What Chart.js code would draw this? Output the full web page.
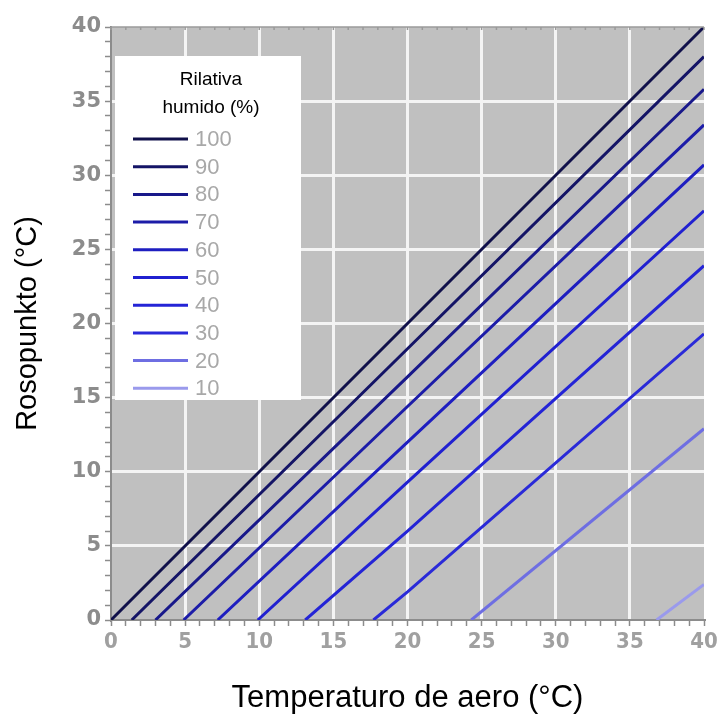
<!DOCTYPE html>
<html>
<head>
<meta charset="utf-8">
<script src="https://cdn.jsdelivr.net/npm/chart.js@4.4.0/dist/chart.umd.min.js"></script>
<style>
  html, body { margin: 0; padding: 0; background: #fff; }
  #wrap { width: 721px; height: 721px; }
</style>
</head>
<body>
<div id="wrap"><canvas id="grafico" width="721" height="721"></canvas></div>
<script>
// Rilativa humido (%) - una linio por nivelo
const humidoj = [100, 90, 80, 70, 60, 50, 40, 30, 20, 10];
// temperaturo kie la rosopunkto estas 0 °C
const tempKomenco = [0, 1.4, 3.0, 4.9, 7.2, 9.9, 13.1, 17.7, 24.3, 36.8];
// rosopunkto je 20 °C kaj je 40 °C
const roso20 = [20, 18.3, 16.4, 14.4, 12.0, 9.3, 6.0, 1.9, null, null];
const roso40 = [40, 38.0, 35.8, 33.4, 30.7, 27.6, 23.9, 19.3, 12.9, 2.4];
const koloroj = ['#10104a', '#141466', '#18188a', '#1c1ca8', '#1e1ec0', '#2020d0', '#2424d6', '#2a2ad8', '#6e6ee2', '#9a9aec'];
const xTikoj = [0, 5, 10, 15, 20, 25, 30, 35, 40];
const yTikoj = [0, 5, 10, 15, 20, 25, 30, 35, 40];

const datasets = humidoj.map((h, i) => {
    const punktoj = [{ x: tempKomenco[i], y: 0 }];
    if (roso20[i] !== null) punktoj.push({ x: 20, y: roso20[i] });
    punktoj.push({ x: 40, y: roso40[i] });
    return {
        label: String(h),
        data: punktoj,
        borderColor: koloroj[i],
        borderWidth: 3,
        pointRadius: 0,
        tension: 0,
        fill: false
    };
});

const GRIZA = '#8c8c8c';

// griza fono de la grafikejo
const fonoPlugin = {
    id: 'fono',
    beforeDraw(chart) {
        const { ctx, chartArea: a } = chart;
        ctx.save();
        ctx.fillStyle = '#c0c0c0';
        ctx.fillRect(a.left, a.top, a.right - a.left, a.bottom - a.top);
        ctx.restore();
    }
};

// supra bordero kun etaj strekoj
const supraPlugin = {
    id: 'supra',
    afterDatasetsDraw(chart) {
        const { ctx, chartArea: a, scales } = chart;
        ctx.save();
        ctx.strokeStyle = '#9a9a9a';
        ctx.lineWidth = 1.5;
        ctx.beginPath();
        ctx.moveTo(a.left, a.top);
        ctx.lineTo(a.right, a.top);
        for (let v = 0; v <= 40; v++) {
            const px = scales.x.getPixelForValue(v);
            ctx.moveTo(px, a.top);
            ctx.lineTo(px, a.top + 3);
        }
        ctx.stroke();
        ctx.restore();
    }
};

// legendo ene de la grafikejo
const legendoPlugin = {
    id: 'legendo',
    afterDatasetsDraw(chart) {
        const ctx = chart.ctx;
        ctx.save();
        ctx.fillStyle = '#ffffff';
        ctx.fillRect(115, 56, 186, 344);
        ctx.fillStyle = '#000';
        ctx.textAlign = 'center';
        ctx.textBaseline = 'middle';
        ctx.font = '19px "Liberation Sans", Arial, sans-serif';
        ctx.fillText('Rilativa', 211, 80);
        ctx.fillText('humido (%)', 211, 108);
        ctx.textAlign = 'left';
        ctx.font = '22px "Liberation Sans", Arial, sans-serif';
        chart.data.datasets.forEach((ds, i) => {
            const y = 139 + i * 27.7;
            ctx.strokeStyle = ds.borderColor;
            ctx.lineWidth = 3;
            ctx.beginPath();
            ctx.moveTo(133, y);
            ctx.lineTo(188, y);
            ctx.stroke();
            ctx.fillStyle = '#a8a8a8';
            ctx.fillText(ds.label, 195, y + 1);
        });
        ctx.restore();
    }
};

function linioKoloro(ctx) {
    const v = ctx.tick ? ctx.tick.value : null;
    if (v === null || v === 0 || v === 40) return 'rgba(0,0,0,0)';
    return v % 5 === 0 ? '#f4f4f4' : 'rgba(0,0,0,0)';
}

new Chart(document.querySelector('#grafico'), {
    type: 'line',
    data: { datasets },
    options: {
        responsive: false,
        animation: false,
        layout: { padding: { top: 27, right: 17, left: 0, bottom: 0 } },
        plugins: {
            legend: { display: false },
            title: { display: false },
            tooltip: { enabled: false }
        },
        scales: {
            x: {
                type: 'linear',
                min: 0,
                max: 40,
                afterFit: s => { s.height = 101; },
                afterBuildTicks: s => { s.ticks = Array.from({ length: 41 }, (_, v) => ({ value: v })); },
                border: { display: true, color: GRIZA, width: 2 },
                grid: {
                    color: linioKoloro,
                    lineWidth: 3,
                    tickColor: GRIZA,
                    tickLength: 6,
                    tickWidth: 1.5
                },
                ticks: {
                    autoSkip: false,
                    maxRotation: 0,
                    padding: 3,
                    color: '#a0a0a0',
                    font: { family: '"DejaVu Sans Condensed", "DejaVu Sans", sans-serif', size: 22, weight: 'bold' },
                    callback: v => xTikoj.includes(v) ? String(v) : ''
                },
                title: {
                    display: true,
                    text: 'Temperaturo de aero (°C)',
                    color: '#000',
                    font: { family: '"Liberation Sans", Arial, sans-serif', size: 31 },
                    padding: { top: 0, bottom: 4 }
                }
            },
            y: {
                type: 'linear',
                min: 0,
                max: 40,
                afterFit: s => { s.width = 111; },
                afterBuildTicks: s => { s.ticks = Array.from({ length: 41 }, (_, v) => ({ value: v })); },
                border: { display: true, color: GRIZA, width: 2 },
                grid: {
                    color: linioKoloro,
                    lineWidth: 3,
                    tickColor: GRIZA,
                    tickLength: 6,
                    tickWidth: 1.5
                },
                ticks: {
                    autoSkip: false,
                    padding: 4,
                    color: GRIZA,
                    font: { family: '"DejaVu Sans", sans-serif', size: 21, weight: 'bold' },
                    callback: v => yTikoj.includes(v) ? String(v) : ''
                },
                title: {
                    display: true,
                    text: 'Rosopunkto (°C)',
                    color: '#000',
                    font: { family: '"Liberation Sans", Arial, sans-serif', size: 29 },
                    padding: { top: 11, bottom: 0 }
                }
            }
        }
    },
    plugins: [fonoPlugin, supraPlugin, legendoPlugin]
});
</script>
</body>
</html>
